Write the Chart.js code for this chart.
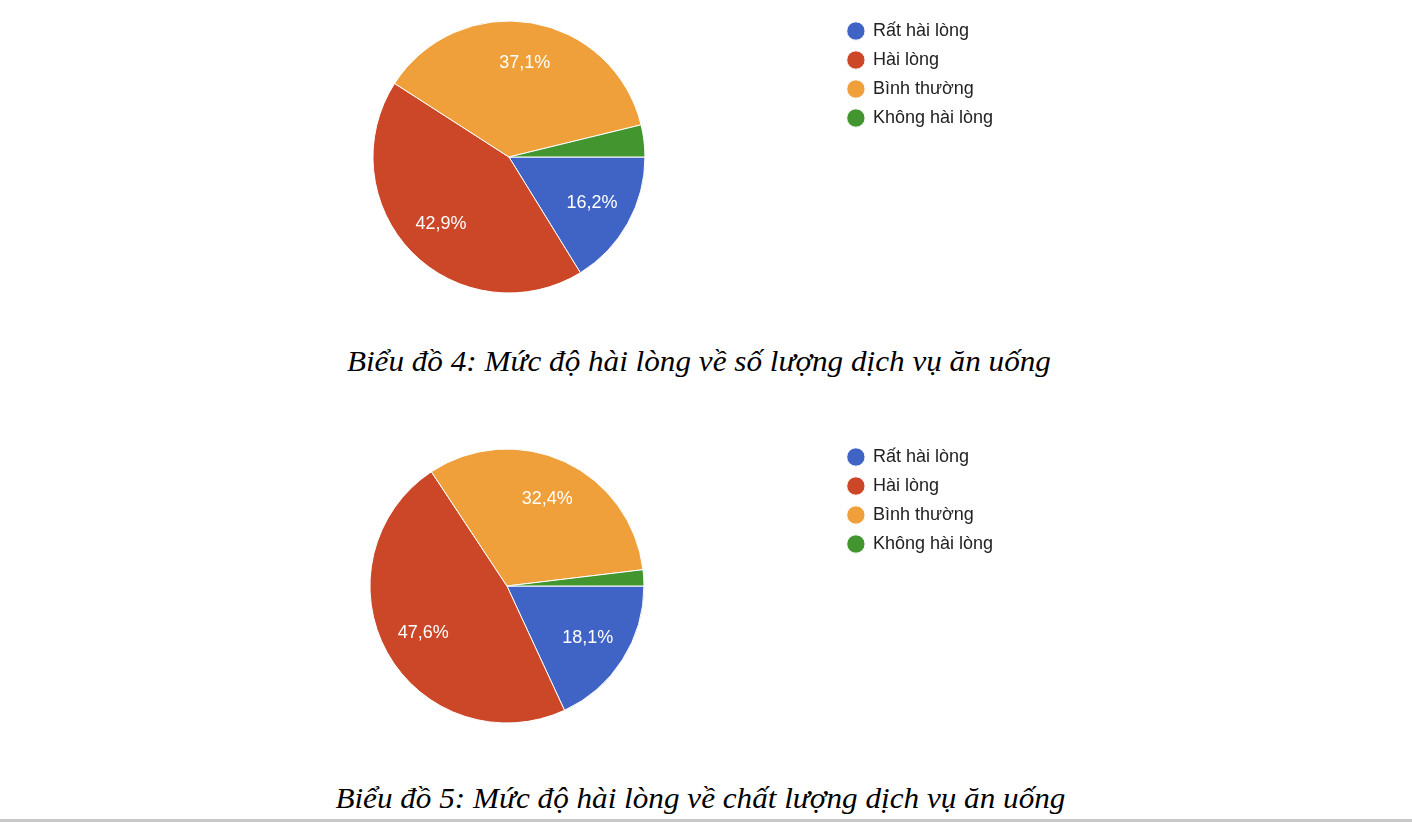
<!DOCTYPE html>
<html>
<head>
<meta charset="utf-8">
<script src="https://cdn.jsdelivr.net/npm/chart.js@4.4.1/dist/chart.umd.min.js"></script>
<style>
  html, body { margin: 0; padding: 0; background: #fff; }
  body { width: 1412px; height: 822px; position: relative; overflow: hidden; }
  .box { position: absolute; }
  .caption {
    position: absolute; width: 1412px; text-align: center;
    font-family: "Liberation Serif", "Times New Roman", serif; font-style: italic;
    font-size: 30px; line-height: 30px; color: #000; white-space: nowrap;
  }
  .caption span { display: inline-block; transform-origin: center; }
  .rule { position: absolute; left: 0; top: 819px; width: 1412px; height: 3px; background: #c8c8c8; }
</style>
</head>
<body>
<div class="box" id="wrap1" style="left:181px; top:11px; width:822px; height:292px;"><canvas id="pie1"></canvas></div>
<div class="caption" id="cap1" style="left:-7px; top:346px;"><span>Biểu đồ 4: Mức độ hài lòng về số lượng dịch vụ ăn uống</span></div>

<div class="box" id="wrap2" style="left:177px; top:437px; width:826px; height:298px;"><canvas id="pie2"></canvas></div>
<div class="caption" id="cap2" style="left:-6px; top:783px;"><span>Biểu đồ 5: Mức độ hài lòng về chất lượng dịch vụ ăn uống</span></div>
<div class="rule"></div>

<script>
// categories + values (percent)
const categories = ['Rất hài lòng', 'Hài lòng', 'Bình thường', 'Không hài lòng'];
const soLuong = [16.2, 42.9, 37.1, 3.8];
const chatLuong = [18.1, 47.6, 32.4, 1.9];
const colors = ['#4064c6', '#cc4628', '#f0a03a', '#43962f'];

// white percentage text inside each slice (google forms style)
const sliceLabels = {
    id: 'sliceLabels',
    afterDatasetsDraw(chart) {
        const ctx = chart.ctx;
        const vals = chart.data.datasets[0].data;
        ctx.save();
        ctx.font = '18px "Liberation Sans", Arial, sans-serif';
        ctx.fillStyle = '#fff';
        ctx.textAlign = 'center';
        ctx.textBaseline = 'middle';
        chart.getDatasetMeta(0).data.forEach((arc, i) => {
            if (vals[i] < 5) return; // too thin for a label
            const p = arc.getProps(['x', 'y', 'startAngle', 'endAngle', 'outerRadius'], true);
            const mid = (p.startAngle + p.endAngle) / 2;
            const r = p.outerRadius * 0.7;
            ctx.fillText(vals[i].toFixed(1).replace('.', ',') + '%', p.x + Math.cos(mid) * r, p.y + Math.sin(mid) * r);
        });
        ctx.restore();
    }
};

function newPie(id, values, radius) {
    return new Chart(document.getElementById(id), {
        type: 'pie',
        data: {
            labels: categories,
            datasets: [{
                data: values,
                backgroundColor: colors,
                borderColor: '#fff',
                borderWidth: 1,
                radius: radius
            }]
        },
        options: {
            responsive: true,
            maintainAspectRatio: false,
            animation: false,
            events: [],
            rotation: 90, // first slice starts at 3 o'clock
            layout: { padding: 0 },
            plugins: {
                tooltip: { enabled: false },
                legend: {
                    position: 'right',
                    align: 'start',
                    labels: {
                        usePointStyle: true,
                        pointStyle: 'circle',
                        boxWidth: 16,
                        boxHeight: 13,
                        padding: 11,
                        color: '#222',
                        font: { family: '"Liberation Sans", Arial, sans-serif', size: 18 }
                    }
                }
            }
        },
        plugins: [sliceLabels]
    });
}

newPie('pie1', soLuong, 136);
newPie('pie2', chatLuong, 137);

// squeeze captions to the width they have in the picture
function fitCaption(id, width) {
    const s = document.querySelector('#' + id + ' span');
    s.style.transform = 'scaleX(' + (width / s.getBoundingClientRect().width) + ')';
}
fitCaption('cap1', 704);
fitCaption('cap2', 730);
</script>
</body>
</html>
